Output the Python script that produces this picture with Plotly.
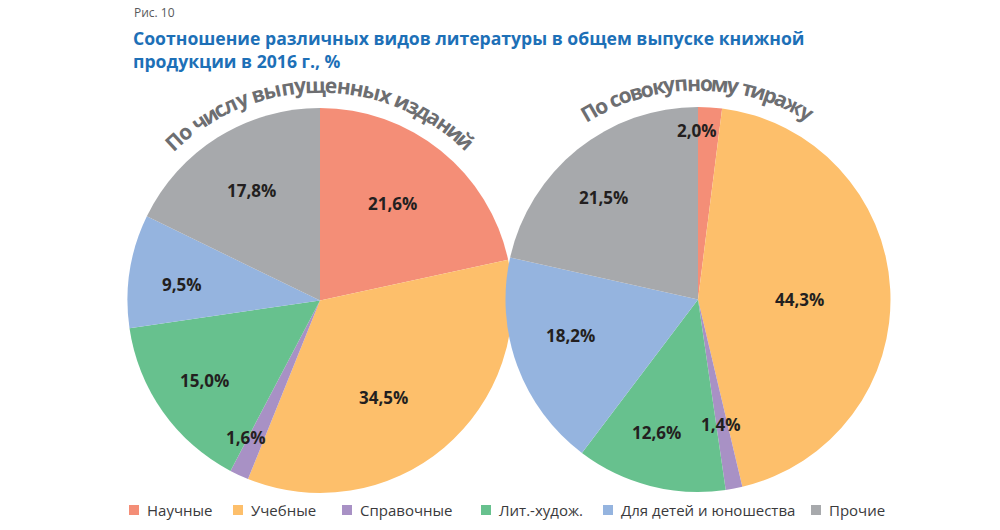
import math
import plotly.graph_objects as go

W, H = 1000, 530

# ---------------- data ----------------
categories = ["Научные", "Учебные", "Справочные", "Лит.-худож.", "Для детей и юношества", "Прочие"]
share_by_titles = [21.6, 34.5, 1.6, 15.0, 9.5, 17.8]     # % by number of titles
share_by_copies = [2.0, 44.3, 1.4, 12.6, 18.2, 21.5]     # % by total print run
pie_titles = ["По числу выпущенных изданий", "По совокупному тиражу"]
fig_number = "Рис. 10"
title_lines = ["Соотношение различных видов литературы в общем выпуске книжной",
               "продукции в 2016 г., %"]

# ---------------- style ----------------
colors = ["#F48E77", "#FDBF6B", "#A891C5", "#67C18E", "#95B4DF", "#A7A9AC"]
FONT = "Open Sans"
LABEL_COLOR = "#231F20"
ARC_COLOR = "#6D6E71"
TITLE_COLOR = "#1D70B7"

# pixel geometry for each pie and its label tweaks (angle offset from slice middle, radius px)
pie_styles = [
    dict(cx=320, cy=300.5, r=192.5,
         dang=[-1.8, 7.1, 3.6, 0.6, -2.4, 0.2],
         lr=[121, 116, 156, 140, 139, 130],
         arc_span=84.8, arc_r=216),
    dict(cx=698, cy=299.5, r=192.5,
         dang=[-3.8, 3.1, 0.6, 2.9, 4.3, -4.0],
         lr=[169.5, 102, 127.5, 139, 133, 139],
         arc_span=60.2, arc_r=217),
]

# approximate advance widths (em) for the arc text font
CHAR_W = {" ": 0.26, "П": 0.72, "а": 0.60, "в": 0.62, "д": 0.63, "е": 0.60, "ж": 0.90,
          "з": 0.52, "и": 0.68, "й": 0.68, "к": 0.62, "л": 0.66, "м": 0.81, "н": 0.68,
          "о": 0.62, "п": 0.68, "р": 0.65, "с": 0.52, "т": 0.53, "у": 0.58, "х": 0.58,
          "ц": 0.70, "ч": 0.64, "щ": 0.98, "ы": 0.90, "б": 0.62}


def px(x):
    return x / W


def py(y):
    return 1 - y / H


fig = go.Figure()
annotations = []
shapes = []

for vals, st in zip([share_by_titles, share_by_copies], pie_styles):
    cx, cy, r = st["cx"], st["cy"], st["r"]
    fig.add_trace(go.Pie(
        labels=categories, values=vals, sort=False, direction="clockwise", rotation=0,
        marker=dict(colors=colors, line=dict(width=0)),
        textinfo="none", showlegend=False, hoverinfo="label+percent",
        domain=dict(x=[px(cx - r), px(cx + r)], y=[py(cy + r), py(cy - r)]),
    ))
    # value labels
    total = sum(vals)
    acc = 0.0
    for v, da, lr in zip(vals, st["dang"], st["lr"]):
        mid = (acc + v / 2) / total * 360.0
        acc += v
        a = math.radians(mid + da)
        x = cx + lr * math.sin(a)
        y = cy - lr * math.cos(a)
        annotations.append(dict(
            x=px(x), y=py(y), xref="paper", yref="paper", showarrow=False,
            xanchor="center", yanchor="middle",
            text="<b>" + f"{v:.1f}".replace(".", ",") + "%</b>",
            font=dict(family=FONT, size=17, color=LABEL_COLOR)))

# curved titles above pies
for text, st in zip(pie_titles, pie_styles):
    widths = [CHAR_W.get(ch, 0.62) for ch in text]
    centers = []
    acc = 0.0
    for w in widths:
        centers.append(acc + w / 2)
        acc += w
    first, last = centers[0], centers[-1]
    span = st["arc_span"]
    for ch, c in zip(text, centers):
        if ch == " ":
            continue
        t = (c - first) / (last - first)
        ang = -span / 2 + t * span
        a = math.radians(ang)
        x = st["cx"] + st["arc_r"] * math.sin(a)
        y = st["cy"] - st["arc_r"] * math.cos(a)
        annotations.append(dict(
            x=px(x), y=py(y), xref="paper", yref="paper", showarrow=False,
            xanchor="center", yanchor="middle", textangle=ang,
            text="<b>" + ch + "</b>",
            font=dict(family=FONT, size=21, color=ARC_COLOR)))

# figure number and title
annotations.append(dict(x=px(132), y=py(13), xref="paper", yref="paper", showarrow=False,
                        xanchor="left", yanchor="middle", text=fig_number,
                        font=dict(family=FONT, size=12, color="#58595B")))
annotations.append(dict(x=px(131), y=py(50), xref="paper", yref="paper",
                        showarrow=False, xanchor="left", yanchor="middle", align="left",
                        text="<br>".join("<b>" + ln + "</b>" for ln in title_lines),
                        font=dict(family=FONT, size=17.6, color=TITLE_COLOR)))

# custom legend
legend_sq_x = [129, 233, 342, 481, 603, 811]
legend_y = 510
for cat, col, sx in zip(categories, colors, legend_sq_x):
    shapes.append(dict(type="rect", xref="paper", yref="paper",
                       x0=px(sx), x1=px(sx + 10), y0=py(legend_y + 5), y1=py(legend_y - 5),
                       fillcolor=col, line=dict(width=0)))
    annotations.append(dict(x=px(sx + 16), y=py(legend_y), xref="paper", yref="paper",
                            showarrow=False, xanchor="left", yanchor="middle", text=cat,
                            font=dict(family=FONT, size=15, color="#3A3A3C")))

fig.update_layout(
    width=W, height=H, margin=dict(l=0, r=0, t=0, b=0),
    paper_bgcolor="white", plot_bgcolor="white",
    annotations=annotations, shapes=shapes, showlegend=False,
)

fig.write_html("out.html")
